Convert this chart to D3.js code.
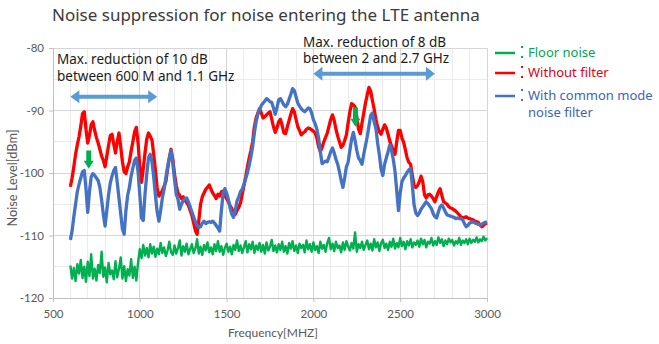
<!DOCTYPE html>
<html><head><meta charset="utf-8">
<script src="https://cdn.jsdelivr.net/npm/d3@7/dist/d3.min.js"></script>
<style>body{margin:0;background:#fff}svg{display:block}</style>
</head><body>
<svg id="chart" width="659" height="344"></svg>
<script>
// ---------------- DATA ----------------
const chartTitle = "Noise suppression for noise entering the LTE antenna";
const xAxisTitle = "Frequency[MHZ]";
const yAxisTitle = "Noise Level[dBm]";
const xTicks = [500, 1000, 1500, 2000, 2500, 3000];
const yTicks = [-120, -110, -100, -90, -80];
const seriesNames = ["Floor noise", "Without filter", "With common mode noise filter"];
const freqStart = 600;   // MHz, first sample
const freqStep = 10;     // MHz between samples

const floorNoise = [
 -114.8,-116.9,-115.2,-117.3,-114.6,-116.1,-113.9,-116.8,-115.0,-117.4,
 -114.2,-116.5,-113.0,-116.9,-115.3,-117.2,-114.7,-116.0,-112.6,-116.6,
 -115.1,-117.5,-114.4,-116.2,-115.6,-117.0,-114.1,-116.7,-115.3,-113.5,
 -116.9,-114.9,-117.3,-115.4,-116.4,-113.8,-116.8,-115.0,-117.2,-114.3,
 -112.2,-113.6,-111.5,-113.2,-112.0,-113.5,-111.4,-112.9,-111.8,-113.4,
 -112.1,-113.0,-111.2,-112.8,-111.9,-113.3,-112.4,-111.0,-112.7,-113.1,
 -111.6,-112.9,-112.0,-110.8,-113.2,-111.7,-112.6,-111.3,-113.0,-112.2,
 -111.4,-112.8,-112.1,-110.6,-112.9,-111.8,-113.1,-111.5,-112.4,-111.1,
 -112.7,-111.9,-113.0,-111.4,-112.5,-110.9,-112.6,-111.7,-113.1,-112.0,
 -111.3,-112.6,-111.8,-113.0,-111.5,-112.3,-110.8,-112.5,-111.6,-112.8,
 -111.9,-110.9,-112.7,-111.4,-112.2,-111.0,-112.8,-111.6,-112.3,-111.2,
 -112.6,-111.5,-112.9,-111.1,-112.4,-111.8,-110.7,-112.5,-111.6,-112.7,
 -111.4,-112.3,-111.0,-112.6,-111.7,-112.9,-111.2,-112.1,-110.9,-112.5,
 -111.6,-112.8,-111.3,-112.0,-111.5,-112.7,-110.8,-112.2,-111.4,-112.6,
 -111.1,-112.3,-111.7,-112.8,-111.0,-112.1,-111.5,-112.6,-111.2,-110.4,
 -112.2,-111.3,-112.5,-111.0,-112.0,-111.6,-112.7,-111.1,-112.3,-110.9,
 -111.8,-112.4,-111.2,-112.1,-109.5,-112.6,-111.4,-112.0,-111.0,-112.3,
 -111.5,-110.8,-112.2,-111.3,-112.4,-110.6,-111.9,-111.1,-112.5,-111.2,
 -110.7,-112.0,-111.3,-112.3,-111.0,-111.8,-110.5,-112.1,-111.2,-111.9,
 -110.4,-111.7,-111.0,-112.2,-110.9,-111.6,-110.6,-111.9,-111.1,-111.5,
 -110.8,-111.8,-110.5,-111.4,-110.7,-111.9,-111.0,-111.3,-110.4,-111.6,
 -110.9,-111.5,-110.3,-111.2,-110.6,-111.7,-110.8,-111.4,-110.5,-111.1,
 -110.7,-111.6,-110.9,-111.3,-110.4,-111.5,-110.8,-111.2,-110.6,-111.4,
 -110.5,-111.2,-110.7,-111.0,-110.3,-111.1,-110.6,-110.9,-110.2,-110.8,
 -110.4
];

const withoutFilter = [
 -102.2,-100.8,-99.0,-97.0,-95.5,-94.2,-92.5,-90.5,-90.2,-93.0,
 -95.2,-94.0,-92.3,-91.8,-93.2,-94.3,-95.2,-96.2,-97.3,-98.0,
 -99.0,-97.3,-95.6,-94.0,-93.8,-95.4,-96.8,-95.0,-93.6,-95.8,
 -98.2,-99.8,-100.1,-99.0,-98.2,-96.5,-95.0,-93.4,-92.7,-95.2,
 -99.0,-101.5,-99.3,-96.8,-94.6,-93.6,-94.1,-94.7,-97.0,-99.6,
 -102.4,-103.7,-103.3,-102.8,-102.1,-101.4,-99.4,-97.6,-96.2,-97.8,
 -100.2,-102.0,-103.2,-103.6,-104.1,-103.8,-104.4,-104.7,-105.2,-106.0,
 -106.8,-108.0,-109.2,-109.8,-107.6,-105.0,-103.8,-103.2,-102.6,-102.3,
 -101.9,-102.6,-103.2,-103.6,-104.1,-103.4,-103.7,-103.0,-102.9,-103.6,
 -104.1,-104.6,-105.2,-105.7,-106.4,-106.6,-106.0,-105.5,-104.8,-103.4,
 -102.0,-100.6,-99.0,-97.6,-96.4,-95.0,-92.6,-91.2,-90.4,-89.7,
 -90.4,-91.2,-91.0,-90.7,-90.4,-90.2,-91.4,-92.6,-93.5,-92.8,
 -91.8,-91.4,-92.4,-93.6,-93.7,-92.6,-91.6,-90.6,-89.7,-90.2,
 -91.4,-92.6,-93.2,-93.9,-93.6,-93.4,-93.0,-92.8,-92.9,-93.1,
 -93.3,-93.6,-94.4,-95.8,-96.6,-95.9,-95.0,-94.3,-93.6,-92.5,
 -91.4,-90.7,-91.6,-93.0,-94.1,-95.0,-95.9,-95.6,-94.8,-93.9,
 -92.0,-90.2,-88.9,-89.1,-89.4,-91.0,-93.0,-93.7,-92.0,-90.4,
 -88.8,-87.5,-86.3,-86.9,-88.4,-89.8,-91.4,-92.6,-93.4,-93.8,
 -93.0,-92.3,-92.8,-93.8,-94.9,-95.7,-96.4,-97.0,-95.0,-93.2,
 -93.2,-94.4,-95.1,-96.3,-97.6,-98.3,-98.6,-100.4,-102.0,-102.3,
 -102.0,-101.4,-100.5,-101.4,-103.5,-104.0,-103.5,-103.4,-103.7,-104.1,
 -104.6,-103.8,-103.0,-102.5,-103.6,-104.6,-104.8,-105.0,-105.4,-105.6,
 -105.7,-105.9,-106.1,-106.4,-106.7,-107.0,-107.2,-107.1,-107.0,-107.2,
 -107.3,-107.4,-107.5,-107.7,-107.8,-107.9,-108.3,-108.6,-108.4,-108.1,
 -108.0
];

const withFilter = [
 -110.7,-109.3,-107.0,-105.0,-103.0,-101.8,-100.8,-99.8,-99.6,-102.5,
 -106.3,-103.0,-100.6,-100.1,-100.4,-100.8,-101.2,-102.3,-104.3,-106.6,
 -108.5,-106.0,-103.5,-101.6,-100.5,-99.6,-99.1,-101.5,-104.0,-106.5,
 -109.0,-109.8,-106.0,-103.6,-102.3,-100.5,-99.2,-98.0,-97.6,-99.8,
 -103.5,-107.2,-107.6,-103.4,-100.2,-97.6,-97.0,-98.2,-100.6,-103.6,
 -106.2,-107.7,-106.0,-104.0,-102.6,-100.8,-99.0,-97.6,-96.4,-98.4,
 -101.0,-103.4,-104.2,-105.8,-105.0,-104.4,-104.1,-104.0,-104.6,-105.4,
 -106.2,-107.0,-107.8,-108.4,-108.7,-108.6,-108.0,-107.7,-108.1,-107.9,
 -107.8,-107.9,-107.7,-108.0,-108.4,-108.8,-109.3,-106.0,-103.2,-102.5,
 -103.2,-104.2,-105.6,-106.6,-107.1,-106.0,-104.5,-103.8,-103.0,-102.6,
 -101.8,-100.9,-100.0,-98.8,-97.4,-95.8,-93.6,-91.8,-90.6,-89.9,
 -89.2,-88.8,-88.5,-88.1,-88.3,-88.6,-88.7,-89.6,-90.6,-89.6,
 -88.3,-88.1,-88.6,-89.1,-89.4,-89.0,-88.2,-87.4,-86.5,-86.8,
 -87.8,-88.8,-89.3,-89.7,-90.0,-90.2,-89.9,-89.6,-89.7,-90.4,
 -91.5,-92.1,-93.0,-94.4,-96.6,-98.5,-98.3,-98.1,-98.2,-97.4,
 -96.6,-96.0,-96.8,-97.8,-98.6,-99.8,-101.2,-102.3,-100.8,-99.0,
 -98.3,-96.4,-94.6,-93.5,-94.8,-96.4,-97.6,-98.0,-98.6,-97.0,
 -95.6,-94.2,-92.5,-90.8,-90.4,-91.8,-92.9,-95.2,-97.1,-99.4,
 -100.4,-98.6,-97.6,-96.6,-95.5,-96.4,-97.8,-99.7,-102.8,-106.0,
 -103.2,-101.4,-100.8,-100.4,-99.9,-99.5,-99.3,-102.0,-105.1,-106.4,
 -106.8,-106.4,-105.8,-105.4,-105.0,-104.6,-104.9,-105.3,-105.7,-106.5,
 -107.0,-107.2,-106.2,-105.4,-105.1,-105.6,-106.2,-106.7,-106.8,-106.9,
 -107.0,-107.1,-107.3,-107.2,-107.3,-107.3,-107.5,-108.1,-108.6,-108.4,
 -108.0,-107.9,-107.8,-108.0,-108.1,-108.2,-108.3,-108.2,-108.0,-107.9,
 -107.8
];

// annotation texts and their anchors in data units (MHz, dBm)
const noteTexts = [
  ["Max. reduction of 10 dB", "between 600 M and 1.1 GHz"],
  ["Max. reduction of 8 dB", "between 2 and 2.7 GHz"]
];
const noteAnchors = [[523, -82.6], [1940, -79.8]];
const rangeArrows = [[600, 1100, -87.8], [2000, 2700, -84.1]];   // from MHz, to MHz, level dBm
const dropArrows = [[706, -96.4, -99.3], [2242, -89.5, -92.6]];   // MHz, top dBm, tip dBm

// ---------------- DRAW ----------------
const svg = d3.select("#chart");
const colors = ["#00b050", "#ff0000", "#4472c4"];
const textColors = ["#00a651", "#e00016", "#3e64b0"];
const L = 53, R = 487, T = 48, B = 298;
const x = d3.scaleLinear().domain([500, 3000]).range([L, R]);
const y = d3.scaleLinear().domain([-120, -80]).range([B, T]);

// grid
const g = svg.append("g");
g.selectAll("line.vmin").data(d3.range(500, 3001, 100)).join("line")
  .attr("x1", d => x(d)).attr("x2", d => x(d)).attr("y1", T).attr("y2", B)
  .attr("stroke", "#ebebeb").attr("stroke-width", 1).attr("shape-rendering", "crispEdges");
g.selectAll("line.hmin").data(d3.range(-120, -79, 5)).join("line")
  .attr("x1", L).attr("x2", R).attr("y1", d => y(d)).attr("y2", d => y(d))
  .attr("stroke", "#ebebeb").attr("stroke-width", 1).attr("shape-rendering", "crispEdges");
g.selectAll("line.vmaj").data(xTicks).join("line")
  .attr("x1", d => x(d)).attr("x2", d => x(d)).attr("y1", T).attr("y2", B)
  .attr("stroke", "#d6d6d6").attr("stroke-width", 1).attr("shape-rendering", "crispEdges");
g.selectAll("line.hmaj").data(yTicks).join("line")
  .attr("x1", L).attr("x2", R).attr("y1", d => y(d)).attr("y2", d => y(d))
  .attr("stroke", "#d6d6d6").attr("stroke-width", 1).attr("shape-rendering", "crispEdges");

// axes
const axisFont = "Lato, 'Open Sans', sans-serif";
const yAxis = svg.append("g").attr("transform", `translate(${L},0)`)
  .call(d3.axisLeft(y).tickValues(yTicks).tickFormat(d => String(d)).tickSize(4).tickPadding(5));
const xAxis = svg.append("g").attr("transform", `translate(0,${B})`)
  .call(d3.axisBottom(x).tickValues(xTicks).tickFormat(d => String(d)).tickSize(4).tickPadding(8));
[yAxis, xAxis].forEach(a => {
  a.select(".domain").attr("stroke", "#bfbfbf");
  a.selectAll(".tick line").attr("stroke", "#bfbfbf");
  a.selectAll("text").attr("fill", "#595959").attr("font-family", axisFont).attr("font-size", 11.5);
});

svg.append("text").attr("x", (L + R) / 2 + 3).attr("y", 337).attr("text-anchor", "middle")
  .attr("font-family", axisFont).attr("font-size", 12).attr("fill", "#595959").text(xAxisTitle);
svg.append("text").attr("transform", `translate(17,${(T + B) / 2 + 5}) rotate(-90)`)
  .attr("text-anchor", "middle").attr("font-family", axisFont).attr("font-size", 12.8)
  .attr("fill", "#595959").text(yAxisTitle);

// series
const allSeries = [floorNoise, withoutFilter, withFilter];
const line = d3.line().x((d, i) => x(freqStart + i * freqStep)).y(d => y(d));
const widths = [2.4, 3.3, 3.3];
allSeries.forEach((s, k) => {
  svg.append("path").datum(s).attr("d", line).attr("fill", "none")
    .attr("stroke", colors[k]).attr("stroke-width", widths[k]).attr("stroke-linejoin", "round");
});

// range arrows (double headed)
function doubleArrow(x1, x2, yc, shaft, headH, headL) {
  const s = shaft / 2, h = headH / 2;
  return `M${x1},${yc} L${x1 + headL},${yc - h} L${x1 + headL},${yc - s} L${x2 - headL},${yc - s}
    L${x2 - headL},${yc - h} L${x2},${yc} L${x2 - headL},${yc + h} L${x2 - headL},${yc + s}
    L${x1 + headL},${yc + s} L${x1 + headL},${yc + h} Z`;
}
rangeArrows.forEach(([a, b, v], i) => {
  svg.append("path").attr("d", doubleArrow(x(a), x(b), y(v), 4, i ? 14 : 13, 9))
    .attr("fill", "#5b9bd5");
});
function downArrow(xc, y1, y2, shaft, headW, headL) {
  const s = shaft / 2, h = headW / 2;
  return `M${xc - s},${y1} L${xc + s},${y1} L${xc + s},${y2 - headL} L${xc + h},${y2 - headL}
    L${xc},${y2} L${xc - h},${y2 - headL} L${xc - s},${y2 - headL} Z`;
}
dropArrows.forEach(([f, v1, v2]) => {
  svg.append("path").attr("d", downArrow(x(f), y(v1), y(v2), 5, 10, 8)).attr("fill", "#00b050");
});

// annotation texts
const textFont = "'Noto Sans', 'Open Sans', sans-serif";
noteTexts.forEach((lines, i) => {
  const t = svg.append("text").attr("x", x(noteAnchors[i][0])).attr("y", y(noteAnchors[i][1]))
    .attr("font-family", textFont).attr("font-size", 13.5).attr("fill", "#1a1a1a");
  lines.forEach((ln, j) => t.append("tspan").attr("x", x(noteAnchors[i][0])).attr("dy", j ? 16.5 : 0).text(ln));
});

// title
svg.append("text").attr("x", 52).attr("y", 21).attr("font-family", textFont)
  .attr("font-size", 17).attr("fill", "#3a3a3a").text(chartTitle);

// legend
const legY = [53, 73, 96];
const legText = [["Floor noise"], ["Without filter"], ["With common mode", "noise filter"]];
legText.forEach((lines, k) => {
  svg.append("line").attr("x1", 495).attr("x2", 515).attr("y1", legY[k]).attr("y2", legY[k])
    .attr("stroke", colors[k]).attr("stroke-width", 2.5);
  [-7, 3].forEach(dy => svg.append("rect").attr("x", 521).attr("y", legY[k] + dy).attr("width", 2).attr("height", 2)
    .attr("fill", colors[k]));
  const t = svg.append("text").attr("x", 528).attr("y", legY[k] + 4)
    .attr("font-family", textFont).attr("font-size", 13).attr("fill", textColors[k]);
  lines.forEach((ln, j) => t.append("tspan").attr("x", 528).attr("dy", j ? 16.5 : 0).text(ln));
});
</script>
</body></html>
